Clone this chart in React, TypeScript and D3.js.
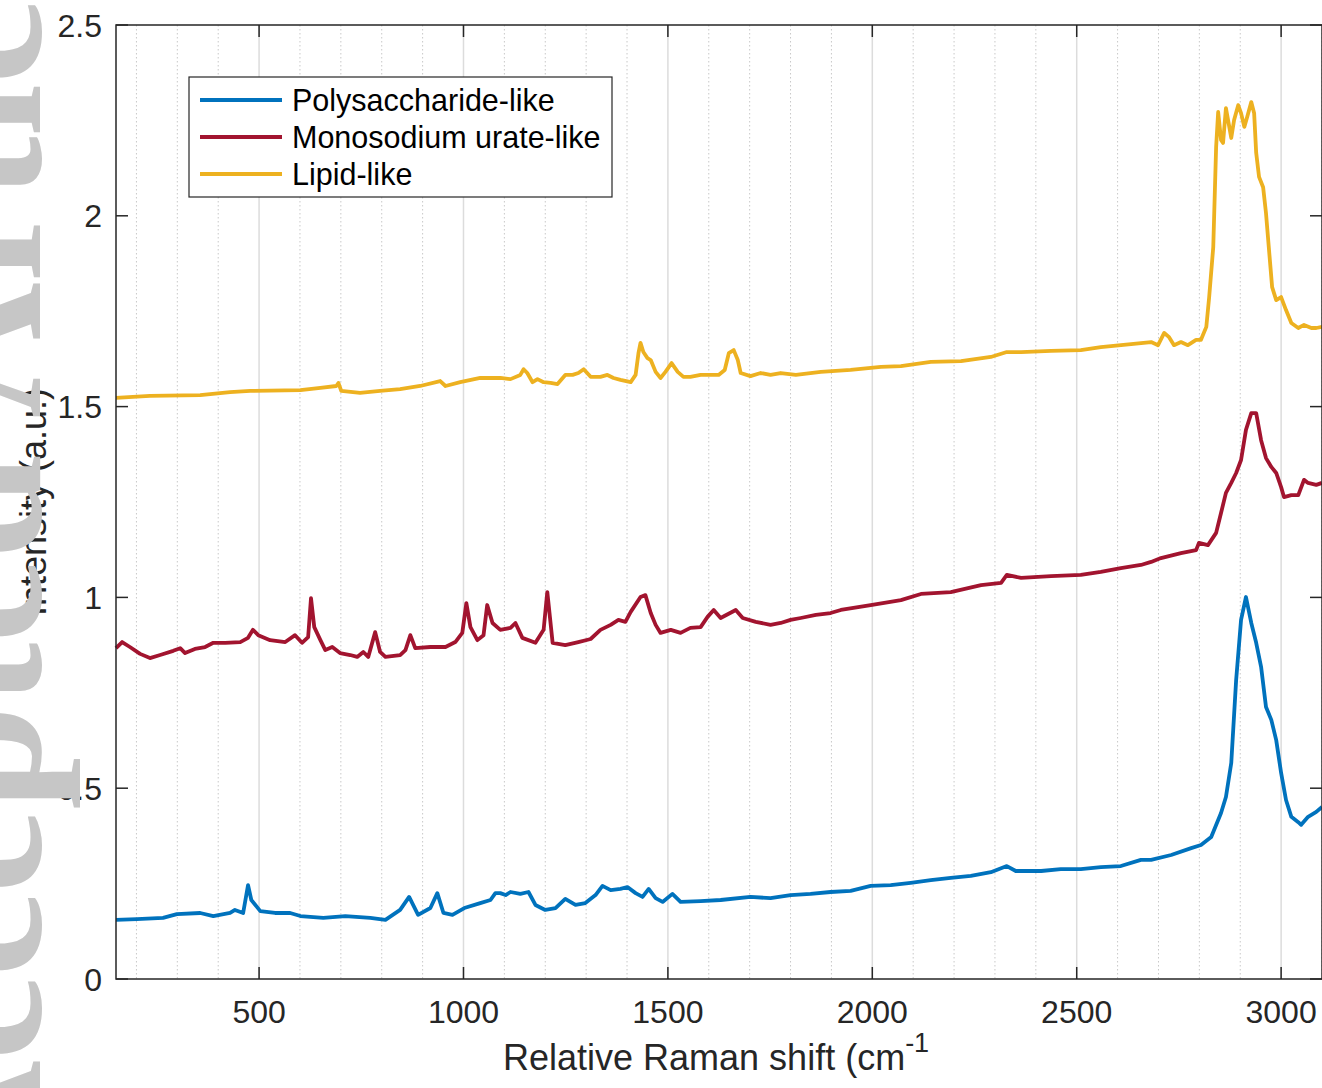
import React, { useEffect, useRef } from 'react';
import * as d3 from 'd3';

// tick values
const xTicks = [500, 1000, 1500, 2000, 2500, 3000];
const yTicks = [0, 0.5, 1, 1.5, 2, 2.5];
const yTickLabels = ['0', '0.5', '1', '1.5', '2', '2.5'];
const minorGrid = [200, 300, 400, 600, 700, 800, 900, 1100, 1200, 1300, 1400, 1600, 1700, 1800, 1900,
  2100, 2200, 2300, 2400, 2600, 2700, 2800, 2900, 3100];

const seriesNames = ['Polysaccharide-like', 'Monosodium urate-like', 'Lipid-like'];
const seriesColors = ['#0072BD', '#A2142F', '#EDB120'];

// Polysaccharide-like
const polyShift = [150, 201, 265, 299, 356, 388, 429, 441, 461, 473, 481, 503, 539, 576, 601, 657, 711, 772, 809,
  845, 867, 889, 919, 936, 951, 973, 1002, 1041, 1066, 1078, 1090, 1103, 1115, 1139, 1159, 1176, 1200, 1225,
  1249, 1274, 1298, 1323, 1340, 1360, 1384, 1401, 1421, 1438, 1453, 1470, 1487, 1511, 1531, 1580, 1629, 1702,
  1751, 1800, 1849, 1898, 1947, 1996, 2045, 2094, 2143, 2192, 2241, 2290, 2329, 2351, 2413, 2461, 2510, 2559,
  2608, 2657, 2682, 2731, 2780, 2804, 2829, 2853, 2865, 2878, 2890, 2902, 2914, 2927, 2939, 2951, 2963, 2976,
  2988, 3000, 3012, 3025, 3042, 3049, 3066, 3086, 3100];
const polyVals = [0.155, 0.157, 0.160, 0.170, 0.173, 0.165, 0.173, 0.181, 0.173, 0.246, 0.207, 0.178, 0.173, 0.173,
  0.165, 0.160, 0.165, 0.160, 0.155, 0.181, 0.215, 0.168, 0.186, 0.225, 0.173, 0.168, 0.186, 0.199, 0.207, 0.225,
  0.225, 0.220, 0.228, 0.223, 0.228, 0.194, 0.181, 0.186, 0.210, 0.194, 0.199, 0.220, 0.244, 0.233, 0.236, 0.241,
  0.225, 0.215, 0.236, 0.212, 0.202, 0.223, 0.202, 0.204, 0.207, 0.215, 0.212, 0.220, 0.223, 0.228, 0.231, 0.244,
  0.246, 0.252, 0.259, 0.265, 0.270, 0.280, 0.296, 0.283, 0.283, 0.288, 0.288, 0.293, 0.296, 0.312, 0.312, 0.325,
  0.343, 0.351, 0.372, 0.435, 0.477, 0.566, 0.784, 0.941, 1.001, 0.933, 0.881, 0.818, 0.713, 0.679, 0.626, 0.540,
  0.469, 0.425, 0.411, 0.404, 0.425, 0.438, 0.451];

// Monosodium urate-like
const urateShift = [150, 165, 184, 209, 233, 258, 290, 307, 319, 343, 368, 388, 417, 454, 473, 485, 498, 527, 564,
  588, 605, 620, 627, 635, 650, 662, 679, 698, 723, 740, 755, 767, 784, 796, 809, 845, 858, 870, 882, 919, 956,
  980, 997, 1007, 1017, 1034, 1049, 1058, 1071, 1090, 1115, 1127, 1144, 1176, 1196, 1205, 1218, 1249, 1281, 1311,
  1335, 1360, 1379, 1396, 1409, 1433, 1445, 1458, 1470, 1482, 1507, 1531, 1555, 1580, 1597, 1612, 1629, 1666,
  1683, 1715, 1751, 1776, 1800, 1825, 1862, 1898, 1923, 1996, 2070, 2119, 2192, 2266, 2315, 2329, 2364, 2437,
  2510, 2559, 2608, 2657, 2682, 2706, 2755, 2792, 2799, 2821, 2841, 2853, 2865, 2878, 2890, 2902, 2914, 2927,
  2939, 2951, 2963, 2976, 2988, 3000, 3007, 3025, 3042, 3056, 3066, 3086, 3100];
const urateVals = [0.867, 0.883, 0.870, 0.852, 0.841, 0.849, 0.860, 0.867, 0.854, 0.865, 0.870, 0.881, 0.881, 0.883,
  0.894, 0.915, 0.901, 0.888, 0.883, 0.901, 0.881, 0.896, 0.998, 0.922, 0.888, 0.862, 0.870, 0.854, 0.849, 0.844,
  0.857, 0.844, 0.909, 0.857, 0.844, 0.849, 0.862, 0.901, 0.867, 0.870, 0.870, 0.883, 0.907, 0.985, 0.922, 0.888,
  0.901, 0.980, 0.933, 0.915, 0.920, 0.933, 0.894, 0.881, 0.915, 1.014, 0.881, 0.875, 0.883, 0.891, 0.915, 0.928,
  0.941, 0.936, 0.962, 1.001, 1.006, 0.959, 0.928, 0.907, 0.915, 0.907, 0.920, 0.922, 0.949, 0.967, 0.946, 0.967,
  0.946, 0.936, 0.928, 0.933, 0.941, 0.946, 0.954, 0.959, 0.967, 0.980, 0.993, 1.009, 1.014, 1.032, 1.038, 1.059,
  1.051, 1.056, 1.059, 1.067, 1.077, 1.085, 1.093, 1.103, 1.116, 1.124, 1.143, 1.137, 1.169, 1.221, 1.274, 1.300,
  1.326, 1.360, 1.439, 1.483, 1.483, 1.412, 1.365, 1.342, 1.326, 1.289, 1.263, 1.268, 1.268, 1.308, 1.300, 1.295,
  1.300];

// Lipid-like
const lipidShift = [150, 233, 356, 429, 478, 601, 650, 689, 694, 701, 747, 796, 845, 894, 943, 956, 992, 1041, 1090,
  1115, 1139, 1147, 1156, 1169, 1181, 1196, 1213, 1230, 1249, 1267, 1281, 1294, 1311, 1335, 1352, 1367, 1384,
  1409, 1421, 1428, 1433, 1440, 1450, 1458, 1470, 1482, 1494, 1509, 1524, 1538, 1555, 1580, 1604, 1624, 1639,
  1649, 1661, 1671, 1678, 1702, 1727, 1751, 1776, 1813, 1874, 1947, 2021, 2070, 2143, 2217, 2290, 2329, 2364,
  2437, 2510, 2559, 2633, 2682, 2699, 2714, 2726, 2738, 2755, 2772, 2792, 2804, 2817, 2824, 2834, 2841, 2846,
  2853, 2858, 2865, 2878, 2885, 2895, 2902, 2910, 2917, 2927, 2934, 2939, 2946, 2956, 2963, 2971, 2978, 2988,
  3000, 3012, 3025, 3042, 3056, 3074, 3086, 3100];
const lipidVals = [1.523, 1.528, 1.530, 1.538, 1.541, 1.543, 1.549, 1.554, 1.562, 1.541, 1.536, 1.541, 1.546, 1.554,
  1.567, 1.554, 1.564, 1.575, 1.575, 1.572, 1.583, 1.598, 1.588, 1.564, 1.572, 1.564, 1.562, 1.559, 1.583, 1.583,
  1.588, 1.598, 1.578, 1.578, 1.583, 1.575, 1.570, 1.564, 1.583, 1.640, 1.667, 1.643, 1.627, 1.622, 1.591, 1.575,
  1.591, 1.614, 1.591, 1.578, 1.578, 1.583, 1.583, 1.583, 1.596, 1.640, 1.648, 1.622, 1.588, 1.580, 1.588, 1.583,
  1.588, 1.583, 1.591, 1.596, 1.604, 1.606, 1.617, 1.619, 1.630, 1.643, 1.643, 1.646, 1.648, 1.656, 1.664, 1.669,
  1.661, 1.693, 1.682, 1.661, 1.669, 1.661, 1.675, 1.675, 1.709, 1.787, 1.918, 2.180, 2.272, 2.199, 2.191, 2.282,
  2.204, 2.251, 2.290, 2.269, 2.233, 2.259, 2.298, 2.269, 2.165, 2.102, 2.075, 2.007, 1.903, 1.813, 1.779, 1.787,
  1.753, 1.719, 1.706, 1.714, 1.706, 1.706, 1.709];

const W = 1322, H = 1088;
const margin = { left: 116, top: 25, right: 1322, bottom: 979 };
const font = '"Liberation Sans", Arial, Helvetica, sans-serif';

function App() {
  const ref = useRef<SVGSVGElement>(null);

  useEffect(() => {
    const svg = d3.select(ref.current);
    svg.selectAll('*').remove();

    const x = d3.scaleLinear().domain([150, 3100]).range([margin.left, margin.right]);
    const y = d3.scaleLinear().domain([0, 2.5]).range([margin.bottom, margin.top]);

    svg.append('rect').attr('width', W).attr('height', H).attr('fill', '#fff');

    // grid
    svg.append('g').selectAll('line').data(minorGrid).join('line')
      .attr('x1', d => x(d)).attr('x2', d => x(d))
      .attr('y1', margin.top).attr('y2', margin.bottom)
      .attr('stroke', '#c8c8c8').attr('stroke-width', 1).attr('stroke-dasharray', '1.5,2.5');
    svg.append('g').selectAll('line').data(xTicks).join('line')
      .attr('x1', d => x(d)).attr('x2', d => x(d))
      .attr('y1', margin.top).attr('y2', margin.bottom)
      .attr('stroke', '#dcdcdc').attr('stroke-width', 1.5);

    // spectra
    const series = [
      polyShift.map((s, i) => [s, polyVals[i]]),
      urateShift.map((s, i) => [s, urateVals[i]]),
      lipidShift.map((s, i) => [s, lipidVals[i]]),
    ];
    const line = d3.line<number[]>().x(d => x(d[0])).y(d => y(d[1]));
    svg.append('g').selectAll('path').data(series).join('path')
      .attr('d', d => line(d))
      .attr('fill', 'none')
      .attr('stroke', (d, i) => seriesColors[i])
      .attr('stroke-width', 3.8)
      .attr('stroke-linejoin', 'round');

    // axes box + ticks
    const ax = svg.append('g').attr('stroke', '#262626').attr('stroke-width', 1.5);
    ax.append('rect')
      .attr('x', margin.left).attr('y', margin.top)
      .attr('width', margin.right - margin.left).attr('height', margin.bottom - margin.top)
      .attr('fill', 'none');
    xTicks.forEach(t => {
      ax.append('line').attr('x1', x(t)).attr('x2', x(t)).attr('y1', margin.bottom).attr('y2', margin.bottom - 12);
      ax.append('line').attr('x1', x(t)).attr('x2', x(t)).attr('y1', margin.top).attr('y2', margin.top + 12);
    });
    yTicks.forEach(t => {
      ax.append('line').attr('x1', margin.left).attr('x2', margin.left + 12).attr('y1', y(t)).attr('y2', y(t));
      ax.append('line').attr('x1', margin.right).attr('x2', margin.right - 12).attr('y1', y(t)).attr('y2', y(t));
    });

    const txt = svg.append('g').attr('font-family', font).attr('fill', '#262626');
    txt.selectAll('.xt').data(xTicks).join('text')
      .attr('x', d => x(d)).attr('y', 1023)
      .attr('text-anchor', 'middle').attr('font-size', 32)
      .text(d => d);
    txt.selectAll('.yt').data(yTicks).join('text')
      .attr('x', 102).attr('y', d => y(d) + 11.5)
      .attr('text-anchor', 'end').attr('font-size', 32)
      .text((d, i) => yTickLabels[i]);

    // x label
    const xl = txt.append('text').attr('x', 503).attr('y', 1070).attr('font-size', 36);
    xl.append('tspan').text('Relative Raman shift (cm');
    xl.append('tspan').attr('dy', -18).attr('font-size', 27).text('-1');

    // y label
    txt.append('text')
      .attr('transform', `translate(46,${(margin.top + margin.bottom) / 2}) rotate(-90)`)
      .attr('text-anchor', 'middle').attr('font-size', 36)
      .text('Intensity (a.u.)');

    // legend
    const lg = svg.append('g');
    lg.append('rect').attr('x', 189).attr('y', 77).attr('width', 423).attr('height', 120)
      .attr('fill', '#fff').attr('stroke', '#262626').attr('stroke-width', 1.2);
    seriesNames.forEach((name, i) => {
      const yy = 100 + i * 37;
      lg.append('line').attr('x1', 200).attr('x2', 282).attr('y1', yy).attr('y2', yy)
        .attr('stroke', seriesColors[i]).attr('stroke-width', 3.8);
      lg.append('text').attr('x', 292).attr('y', yy + 11).attr('font-family', font)
        .attr('font-size', 30.5).attr('fill', '#000').text(name);
    });

    // watermark
    svg.append('text')
      .attr('transform', 'translate(40,1196) rotate(-90)')
      .attr('font-family', '"Liberation Serif", "Times New Roman", serif')
      .attr('font-size', 188)
      .attr('font-weight', 'bold')
      .attr('fill', '#c6c6c6')
      .text('Accepted Article');
  }, []);

  return (
    <div style={{ position: 'absolute', left: 0, top: 0 }}>
      <svg ref={ref} width={W} height={H} style={{ display: 'block' }} />
    </div>
  );
}

export default App;
